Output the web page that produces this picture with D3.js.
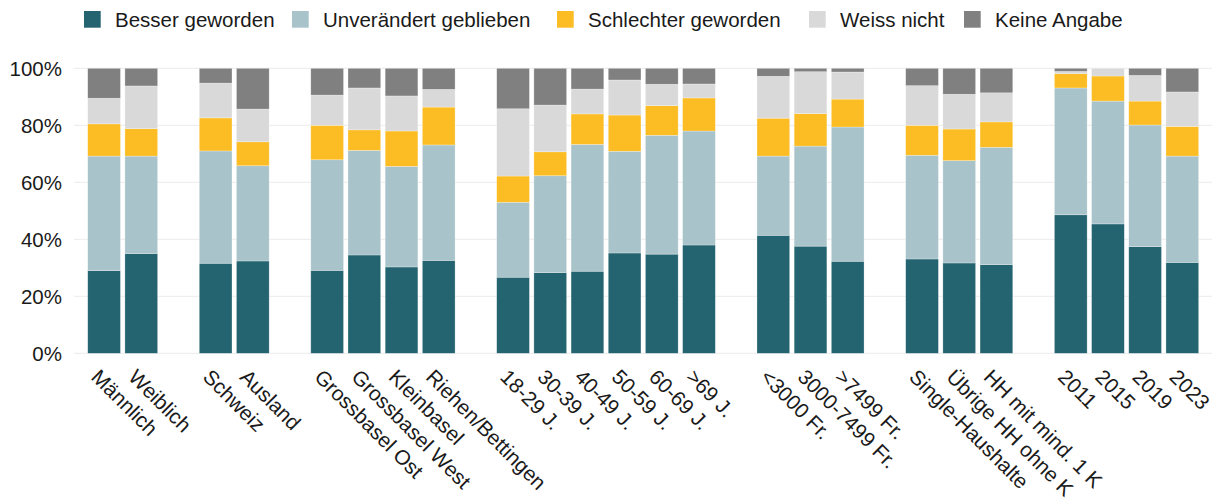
<!DOCTYPE html>
<html>
<head>
<meta charset="utf-8">
<script src="https://cdn.jsdelivr.net/npm/d3@7"></script>
<style>
  html, body { margin: 0; padding: 0; background: #ffffff; }
  svg { display: block; font-family: "Liberation Sans", Arial, sans-serif; }
</style>
</head>
<body>
<svg id="chart" width="1215" height="503"></svg>
<script>
// Categories, in display order; groupSizes splits them into blocks separated by an empty slot
const categories = [
  "Männlich", "Weiblich",
  "Schweiz", "Ausland",
  "Grossbasel Ost", "Grossbasel West", "Kleinbasel", "Riehen/Bettingen",
  "18-29 J.", "30-39 J.", "40-49 J.", "50-59 J.", "60-69 J.", ">69 J.",
  "<3000 Fr.", "3000-7499 Fr.", ">7499 Fr.",
  "Single-Haushalte", "Übrige HH ohne K", "HH mit mind. 1 K",
  "2011", "2015", "2019", "2023"
];
const groupSizes = [2, 2, 4, 6, 3, 3, 4];

const seriesNames = ["Besser geworden", "Unverändert geblieben", "Schlechter geworden", "Weiss nicht", "Keine Angabe"];
const seriesColors = ["#246470", "#a9c3ca", "#fbbd23", "#d9d9d9", "#808080"];

// Shares in percent
const besser       = [29.0, 35.0, 31.6, 32.4, 29.1, 34.5, 30.3, 32.6, 26.7, 28.3, 28.8, 35.2, 34.8, 38.0, 41.4, 37.6, 32.3, 33.1, 31.7, 31.1, 48.6, 45.4, 37.4, 31.9];
const unveraendert = [40.2, 34.2, 39.4, 33.4, 38.8, 36.7, 35.3, 40.5, 26.3, 34.0, 44.5, 35.7, 41.7, 40.0, 27.8, 35.1, 47.1, 36.4, 35.9, 41.2, 44.5, 43.1, 42.7, 37.3];
const schlechter   = [11.3,  9.6, 11.6,  8.4, 12.1,  7.2, 12.4, 13.3,  9.2,  8.4, 10.7, 12.7, 10.4, 11.6, 13.3, 11.4,  9.8, 10.5, 11.1,  8.9,  5.0,  8.8,  8.4, 10.4];
const weissNicht   = [ 9.0, 15.0, 12.2, 11.5, 10.6, 14.7, 12.3,  6.2, 23.6, 16.4,  8.7, 12.3,  7.5,  4.9, 14.7, 14.7,  9.5, 13.9, 12.2, 10.2,  0.8,  2.7,  9.0, 12.1];
const keineAngabe  = [10.5,  6.2,  5.2, 14.3,  9.4,  6.9,  9.7,  7.4, 14.2, 12.9,  7.3,  4.1,  5.6,  5.5,  2.8,  1.2,  1.3,  6.1,  9.1,  8.6,  1.1,  0.0,  2.5,  8.3];

const yTicks = [0, 20, 40, 60, 80, 100];
const yTickLabels = ["0%", "20%", "40%", "60%", "80%", "100%"];

// Slot index for every category (one empty slot between blocks)
const slotOf = [];
{
  let slot = 0;
  groupSizes.forEach((n, g) => {
    for (let k = 0; k < n; k++) slotOf.push(slot++);
    if (g < groupSizes.length - 1) slot++;
  });
}
const nSlots = slotOf[slotOf.length - 1] + 1;

const rows = categories.map((c, i) => ({
  slot: slotOf[i],
  label: c,
  [seriesNames[0]]: besser[i],
  [seriesNames[1]]: unveraendert[i],
  [seriesNames[2]]: schlechter[i],
  [seriesNames[3]]: weissNicht[i],
  [seriesNames[4]]: keineAngabe[i]
}));

const svg = d3.select("#chart");
const plotTop = 68.3, plotBottom = 353.3;
const gridLeft = 74, gridRight = 1212;

const x = d3.scaleBand()
  .domain(d3.range(nSlots))
  .range([85.5, 1200.9])
  .paddingInner(0.12)
  .paddingOuter(0.06);

const y = d3.scaleLinear().domain([0, 100]).range([plotBottom, plotTop]);

const color = d3.scaleOrdinal().domain(seriesNames).range(seriesColors);

// Gridlines
svg.append("g")
  .selectAll("line")
  .data(yTicks)
  .join("line")
  .attr("x1", gridLeft).attr("x2", gridRight)
  .attr("y1", d => y(d)).attr("y2", d => y(d))
  .attr("stroke", "#ebebeb")
  .attr("stroke-width", 1);

// Y axis labels
const yAxis = d3.axisLeft(y)
  .tickValues(yTicks)
  .tickFormat((d, i) => yTickLabels[i])
  .tickSize(0)
  .tickPadding(0);
const gy = svg.append("g").attr("transform", "translate(62,0)").call(yAxis);
gy.select(".domain").remove();
gy.selectAll("text")
  .attr("font-size", 20.5)
  .attr("fill", "#1a1a1a")
  .attr("font-family", "Liberation Sans, Arial, sans-serif")
  .attr("dy", "0.36em");

// Stacked bars
const stack = d3.stack().keys(seriesNames);
const layers = stack(rows);

svg.append("g")
  .selectAll("g")
  .data(layers)
  .join("g")
  .attr("fill", d => color(d.key))
  .selectAll("rect")
  .data(d => d)
  .join("rect")
  .attr("x", d => x(d.data.slot))
  .attr("width", x.bandwidth())
  .attr("y", d => y(d[1]))
  .attr("height", d => Math.max(0, y(d[0]) - y(d[1])))
  .attr("stroke", "#ffffff")
  .attr("stroke-opacity", 0.45)
  .attr("stroke-width", 0.6);

// X axis labels, rotated
const xAxis = d3.axisBottom(x)
  .tickValues(slotOf)
  .tickFormat(s => categories[slotOf.indexOf(s)])
  .tickSize(0)
  .tickPadding(0);
const gx = svg.append("g").attr("transform", `translate(0,${plotBottom})`).call(xAxis);
gx.select(".domain").remove();
gx.selectAll("text")
  .attr("font-size", 20.8)
  .attr("fill", "#1a1a1a")
  .attr("font-family", "Liberation Sans, Arial, sans-serif")
  .attr("text-anchor", "start")
  .attr("dy", null)
  .attr("y", 0)
  .attr("transform", "translate(-14,25) rotate(45)");

// Legend: swatch + label per series
const legendX = [84, 292, 557, 809, 964];
const legend = svg.append("g");
seriesNames.forEach((name, i) => {
  const item = legend.append("g").attr("transform", `translate(${legendX[i]},0)`);
  item.append("rect")
    .attr("x", 0).attr("y", 11)
    .attr("width", 16.7).attr("height", 16.7)
    .attr("fill", seriesColors[i]);
  item.append("text")
    .attr("x", 31).attr("y", 26.5)
    .attr("font-size", 20.5)
    .attr("fill", "#1a1a1a")
    .text(name);
});
</script>
</body>
</html>
